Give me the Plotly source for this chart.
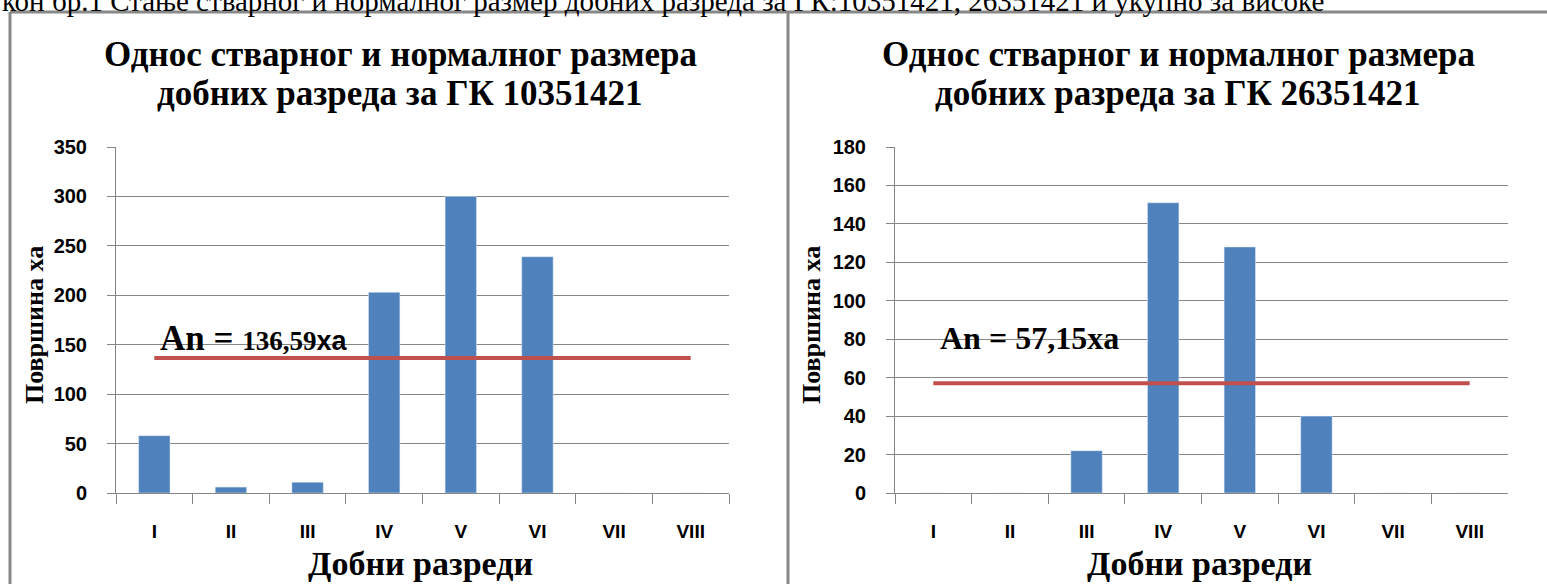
import plotly.graph_objects as go

W, H = 1547, 584

categories = ["I", "II", "III", "IV", "V", "VI", "VII", "VIII"]
values_gk1 = [58, 6, 11, 203, 300, 239, 0, 0]
values_gk2 = [0, 0, 22, 151, 128, 40, 0, 0]
normal_gk1 = 136.59
normal_gk2 = 57.15
title_gk1 = ["Однос стварног и нормалног размера", "добних разреда за ГК 10351421"]
title_gk2 = ["Однос стварног и нормалног размера", "добних разреда за ГК 26351421"]
label_gk1 = ("<b>An = </b><span style='font-size:27px'><b>136,59</b></span>"
             "<span style='font-family:Liberation Sans;font-size:27px'><b>xa</b></span>")
label_gk2 = "<b>An = 57,15xa</b>"
y_title = "Површина ха"
x_title = "Добни разреди"
top_text = "кон бр.1 Стање стварног и нормалног размер добних разреда за ГК:10351421, 26351421 и укупно за високе"

BAR = "#4F81BD"
RED = "#C0504D"
GRID = "#868686"
SERIF = "Liberation Serif"
SANS = "Liberation Sans"

def px_x(p):
    return p / W

def px_y(p):
    return (H - p) / H

fig = go.Figure()

fig.add_trace(go.Bar(x=categories, y=values_gk1, marker_color=BAR, width=0.41,
                     xaxis="x", yaxis="y", showlegend=False))
fig.add_trace(go.Scatter(x=categories, y=[normal_gk1] * len(categories), mode="lines",
                         line=dict(color=RED, width=4), xaxis="x", yaxis="y", showlegend=False))
fig.add_trace(go.Bar(x=categories, y=values_gk2, marker_color=BAR, width=0.41,
                     xaxis="x2", yaxis="y2", showlegend=False))
fig.add_trace(go.Scatter(x=categories, y=[normal_gk2] * len(categories), mode="lines",
                         line=dict(color=RED, width=4), xaxis="x2", yaxis="y2", showlegend=False))

ydom = [px_y(493), px_y(147)]

xaxis_common = dict(type="category", range=[-0.5, 7.5], showline=True, linecolor=GRID, linewidth=1,
                    ticks="outside", tickson="boundaries", ticklen=10, tickcolor=GRID, tickwidth=1,
                    showgrid=False, tickfont=dict(family=SANS, size=19, color="black", weight="bold"),
                    ticklabelstandoff=21, fixedrange=True)
yaxis_common = dict(showline=True, linecolor=GRID, linewidth=1, ticks="outside", ticklen=8,
                    tickcolor=GRID, showgrid=True, gridcolor=GRID, gridwidth=1, zeroline=False,
                    tickfont=dict(family=SANS, size=20, color="black", weight="bold"),
                    ticklabelstandoff=16, fixedrange=True)

fig.update_layout(
    width=W, height=H,
    margin=dict(l=0, r=0, t=0, b=0, autoexpand=False),
    paper_bgcolor="white", plot_bgcolor="white",
    bargap=0.5,
    xaxis=dict(domain=[px_x(116), px_x(729)], anchor="y", **xaxis_common),
    yaxis=dict(domain=ydom, anchor="x", range=[0, 350], dtick=50, **yaxis_common),
    xaxis2=dict(domain=[px_x(895), px_x(1508)], anchor="y2", **xaxis_common),
    yaxis2=dict(domain=ydom, anchor="x2", range=[0, 180], dtick=20, **yaxis_common),
)

ann = []
# titles (two lines each)
for cx, lines in [(400, title_gk1), (1178, title_gk2)]:
    for cy, t in zip([55, 93], lines):
        ann.append(dict(text=f"<b>{t}</b>", x=px_x(cx), y=px_y(cy), xref="paper", yref="paper",
                        xanchor="center", yanchor="middle", showarrow=False,
                        font=dict(family=SERIF, size=35, color="black")))
# y titles
for cx in [35, 812]:
    ann.append(dict(text=f"<b>{y_title}</b>", x=px_x(cx), y=px_y(325), xref="paper", yref="paper",
                    xanchor="center", yanchor="middle", showarrow=False, textangle=-90,
                    font=dict(family=SERIF, size=26, color="black")))
# x titles
for cx in [421, 1199]:
    ann.append(dict(text=f"<b>{x_title}</b>", x=px_x(cx), y=px_y(563), xref="paper", yref="paper",
                    xanchor="center", yanchor="middle", showarrow=False,
                    font=dict(family=SERIF, size=34, color="black")))
# An labels
ann.append(dict(text=label_gk1, x=px_x(158), y=px_y(338), xref="paper", yref="paper",
                xanchor="left", yanchor="middle", showarrow=False,
                font=dict(family=SERIF, size=35, color="black")))
ann.append(dict(text=label_gk2, x=px_x(938), y=px_y(338), xref="paper", yref="paper",
                xanchor="left", yanchor="middle", showarrow=False,
                font=dict(family=SERIF, size=32, color="black")))
# top caption, clipped by the page edge as in the source
ann.append(dict(text=top_text, x=0, y=px_y(1), xref="paper", yref="paper",
                xanchor="left", yanchor="middle", showarrow=False,
                font=dict(family=SERIF, size=29, color="black")))
fig.update_layout(annotations=ann)

shapes = []
for (x0, y0, x1, y1) in [(10, 12, 10, H), (10, 12, W, 12), (788, 12, 788, H)]:
    shapes.append(dict(type="line", xref="paper", yref="paper",
                       x0=px_x(x0), y0=px_y(y0), x1=px_x(x1), y1=px_y(y1),
                       line=dict(color="#888888", width=3)))
fig.update_layout(shapes=shapes)

fig.write_html("out.html", config={"displayModeBar": False},
               post_script="document.body.style.margin='0';")
